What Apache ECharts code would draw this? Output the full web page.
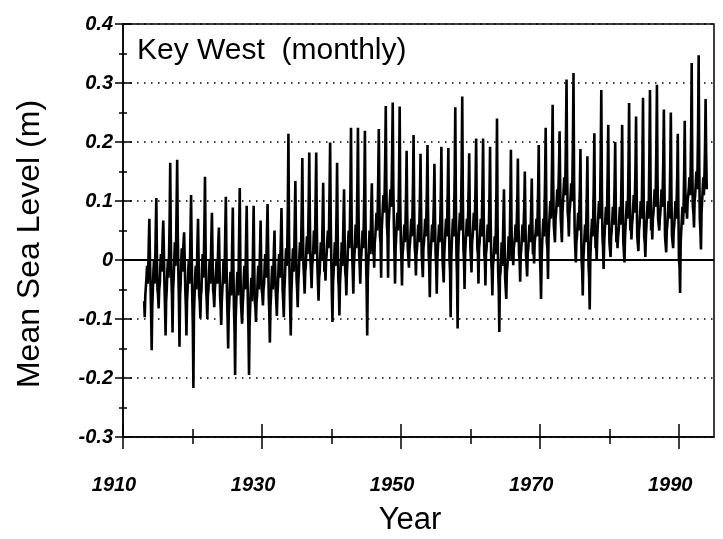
<!DOCTYPE html>
<html>
<head>
<meta charset="utf-8">
<script src="https://cdn.jsdelivr.net/npm/echarts@6/dist/echarts.min.js"></script>
<style>
html,body{margin:0;padding:0;background:#fff;}
#chart{width:723px;height:539px;}
</style>
</head>
<body>
<div id="chart"></div>
<script>
// Key West monthly mean sea level (m), Jan..Dec of each year
const firstYear = 1913;
const msl1910s = [
 -0.07,-0.097,-0.06,-0.06,-0.03,-0.01,-0.04,-0.02,0.03,0.07,0.0,-0.04,      // 1913
 -0.09,-0.153,-0.08,-0.05,-0.02,0.0,-0.04,-0.01,0.05,0.105,0.01,-0.05,      // 1914
 -0.06,-0.082,-0.05,-0.04,-0.01,0.01,-0.02,0.0,0.04,0.067,0.02,-0.04,       // 1915
 -0.08,-0.128,-0.07,-0.05,-0.02,0.0,-0.03,0.01,0.07,0.165,0.04,-0.03,       // 1916
 -0.06,-0.123,-0.05,-0.03,0.0,0.03,-0.01,0.02,0.09,0.17,0.05,-0.02,         // 1917
 -0.07,-0.147,-0.06,-0.04,0.0,0.02,-0.02,0.01,0.03,0.047,0.0,-0.05,         // 1918
 -0.08,-0.128,-0.07,-0.05,-0.02,0.0,-0.04,-0.01,0.05,0.11,0.02,-0.06        // 1919
];
const msl1920s = [
 -0.11,-0.217,-0.09,-0.06,-0.03,-0.01,-0.05,-0.02,0.03,0.07,0.0,-0.06,
 -0.07,-0.099,-0.06,-0.05,-0.01,0.01,-0.03,0.0,0.06,0.141,0.03,-0.05,
 -0.07,-0.10,-0.06,-0.05,-0.02,0.0,-0.04,-0.01,0.04,0.08,0.01,-0.05,
 -0.06,-0.08,-0.05,-0.05,-0.02,0.0,-0.04,-0.01,0.03,0.055,0.0,-0.06,
 -0.08,-0.11,-0.07,-0.05,-0.03,0.0,-0.04,-0.01,0.05,0.107,0.01,-0.06,
 -0.10,-0.15,-0.09,-0.07,-0.04,-0.02,-0.06,-0.03,0.03,0.089,-0.01,-0.08,
 -0.12,-0.195,-0.10,-0.07,-0.04,-0.02,-0.06,-0.02,0.05,0.122,0.0,-0.07,
 -0.09,-0.108,-0.08,-0.06,-0.03,-0.01,-0.05,-0.02,0.04,0.092,0.0,-0.07,
 -0.12,-0.195,-0.11,-0.08,-0.05,-0.03,-0.07,-0.04,0.03,0.092,-0.01,-0.07,
 -0.08,-0.105,-0.07,-0.06,-0.03,-0.01,-0.05,-0.02,0.02,0.067,-0.01,-0.05
];
const msl1930s = [
 -0.06,-0.077,-0.05,-0.04,-0.01,0.01,-0.03,0.0,0.05,0.095,0.02,-0.06,
 -0.09,-0.14,-0.08,-0.06,-0.03,-0.01,-0.05,-0.02,0.02,0.05,-0.01,-0.05,
 -0.07,-0.095,-0.06,-0.04,-0.01,0.01,-0.03,0.0,0.04,0.088,0.02,-0.05,
 -0.07,-0.097,-0.05,-0.03,0.0,0.02,-0.01,0.02,0.09,0.214,0.05,-0.03,
 -0.08,-0.128,-0.06,-0.03,0.0,0.02,-0.02,0.01,0.07,0.134,0.04,-0.03,
 -0.05,-0.08,-0.04,-0.02,0.01,0.03,0.0,0.03,0.09,0.173,0.06,-0.01,
 -0.03,-0.057,-0.02,-0.01,0.02,0.04,0.01,0.04,0.10,0.182,0.07,0.0,
 -0.02,-0.048,-0.01,0.0,0.02,0.05,0.01,0.04,0.11,0.182,0.06,-0.01,
 -0.04,-0.069,-0.03,-0.02,0.01,0.03,0.0,0.02,0.07,0.131,0.04,-0.02,
 -0.01,-0.035,0.0,0.01,0.03,0.05,0.02,0.05,0.12,0.199,0.07,0.0
];
const msl1940s = [
 -0.06,-0.105,-0.04,-0.02,0.0,0.03,-0.01,0.02,0.08,0.165,0.05,-0.03,
 -0.05,-0.094,-0.04,-0.02,0.0,0.03,-0.01,0.02,0.07,0.12,0.04,-0.02,
 -0.03,-0.06,-0.02,0.0,0.03,0.05,0.02,0.05,0.12,0.224,0.08,0.01,
 -0.02,-0.057,-0.01,0.01,0.03,0.06,0.02,0.05,0.13,0.224,0.08,0.01,
 -0.01,-0.04,0.0,0.01,0.03,0.05,0.02,0.06,0.12,0.219,0.07,0.0,
 -0.05,-0.128,-0.03,0.0,0.02,0.05,0.01,0.04,0.09,0.13,0.06,0.01,
 0.02,-0.013,0.03,0.04,0.06,0.08,0.05,0.08,0.14,0.222,0.10,0.04,
 0.03,-0.03,0.05,0.07,0.09,0.11,0.08,0.11,0.17,0.261,0.13,0.06,
 0.04,-0.03,0.06,0.08,0.10,0.12,0.09,0.12,0.18,0.267,0.13,0.06,
 0.01,-0.04,0.02,0.04,0.06,0.08,0.05,0.08,0.15,0.26,0.10,0.03
];
const msl1950s = [
 0.0,-0.043,0.01,0.02,0.04,0.06,0.03,0.06,0.11,0.185,0.08,0.02,
 0.02,-0.013,0.02,0.03,0.05,0.07,0.04,0.07,0.13,0.212,0.09,0.02,
 0.01,-0.026,0.01,0.02,0.04,0.06,0.03,0.06,0.11,0.18,0.08,0.01,
 0.01,-0.029,0.02,0.03,0.05,0.07,0.04,0.07,0.12,0.195,0.08,0.01,
 -0.01,-0.063,0.0,0.02,0.04,0.06,0.03,0.06,0.10,0.163,0.07,0.01,
 -0.01,-0.057,0.0,0.02,0.04,0.06,0.03,0.06,0.11,0.192,0.08,0.0,
 0.0,-0.038,0.01,0.03,0.05,0.07,0.04,0.07,0.12,0.19,0.08,0.0,
 -0.02,-0.097,0.0,0.03,0.05,0.07,0.04,0.08,0.15,0.259,0.10,0.01,
 -0.03,-0.116,0.01,0.04,0.06,0.08,0.05,0.09,0.16,0.277,0.11,0.02,
 0.0,-0.049,0.01,0.03,0.05,0.07,0.04,0.07,0.12,0.181,0.08,0.02
];
const msl1960s = [
 0.02,-0.021,0.03,0.04,0.06,0.08,0.05,0.08,0.13,0.206,0.09,0.02,
 0.01,-0.04,0.02,0.03,0.05,0.07,0.04,0.07,0.13,0.206,0.08,0.01,
 0.0,-0.043,0.01,0.02,0.04,0.06,0.03,0.06,0.11,0.192,0.07,0.0,
 -0.02,-0.06,-0.01,0.0,0.02,0.04,0.01,0.05,0.12,0.24,0.06,-0.02,
 -0.05,-0.122,-0.03,-0.02,0.0,0.03,-0.01,0.02,0.07,0.12,0.04,-0.03,
 -0.03,-0.066,-0.02,-0.01,0.01,0.04,0.0,0.03,0.10,0.187,0.06,0.0,
 0.02,-0.009,0.02,0.02,0.04,0.06,0.03,0.06,0.10,0.172,0.07,0.01,
 0.0,-0.037,0.01,0.02,0.04,0.06,0.03,0.06,0.09,0.15,0.07,0.01,
 0.01,-0.028,0.01,0.02,0.04,0.06,0.03,0.05,0.09,0.138,0.06,0.01,
 0.02,-0.006,0.03,0.03,0.05,0.07,0.04,0.07,0.12,0.195,0.08,0.01
];
const msl1970s = [
 -0.02,-0.066,0.0,0.03,0.05,0.07,0.04,0.08,0.14,0.224,0.10,0.03,
 0.02,-0.032,0.04,0.06,0.08,0.10,0.07,0.10,0.17,0.263,0.13,0.06,
 0.06,0.03,0.07,0.08,0.10,0.12,0.09,0.12,0.16,0.218,0.13,0.07,
 0.07,0.03,0.08,0.10,0.12,0.14,0.11,0.14,0.21,0.306,0.15,0.08,
 0.07,0.04,0.08,0.09,0.11,0.13,0.10,0.13,0.20,0.317,0.14,0.05,
 0.02,-0.004,0.03,0.04,0.06,0.08,0.05,0.08,0.12,0.188,0.07,0.0,
 -0.02,-0.06,0.0,0.02,0.04,0.06,0.03,0.06,0.11,0.176,0.06,-0.01,
 -0.03,-0.084,0.0,0.03,0.05,0.07,0.04,0.07,0.13,0.215,0.08,0.02,
 0.03,0.0,0.04,0.06,0.08,0.10,0.07,0.10,0.18,0.288,0.12,0.04,
 0.02,-0.015,0.03,0.05,0.07,0.09,0.06,0.09,0.15,0.229,0.10,0.03
];
const msl1980s = [
 0.03,0.005,0.04,0.05,0.07,0.09,0.06,0.09,0.13,0.20,0.09,0.03,
 0.04,0.02,0.04,0.05,0.07,0.09,0.06,0.09,0.15,0.229,0.10,0.03,
 0.03,-0.004,0.04,0.06,0.08,0.10,0.07,0.10,0.17,0.266,0.12,0.05,
 0.06,0.035,0.06,0.07,0.09,0.11,0.08,0.11,0.16,0.243,0.12,0.04,
 0.04,0.015,0.05,0.06,0.08,0.10,0.07,0.10,0.17,0.275,0.12,0.04,
 0.03,0.005,0.04,0.06,0.08,0.10,0.07,0.10,0.18,0.288,0.13,0.05,
 0.06,0.035,0.07,0.08,0.10,0.12,0.09,0.12,0.19,0.297,0.14,0.07,
 0.07,0.05,0.07,0.08,0.10,0.12,0.09,0.12,0.17,0.255,0.13,0.04,
 0.04,0.013,0.05,0.06,0.08,0.10,0.07,0.10,0.16,0.25,0.11,0.04,
 0.04,0.02,0.05,0.06,0.08,0.10,0.07,0.10,0.14,0.214,0.09,0.0
];
const msl1990s = [
 -0.01,-0.056,0.03,0.05,0.07,0.09,0.06,0.09,0.15,0.236,0.12,0.08,
 0.09,0.07,0.10,0.10,0.12,0.14,0.11,0.14,0.21,0.334,0.16,0.09,
 0.08,0.055,0.10,0.11,0.13,0.15,0.12,0.15,0.22,0.347,0.17,0.07,
 0.05,0.018,0.08,0.10,0.12,0.14,0.11,0.14,0.19,0.273,0.18,0.12
];
const xLabelYears = [1910, 1930, 1950, 1970, 1990];
const xMinorYears = [1920, 1940, 1960, 1980];
const yMajorTicks = [-0.3, -0.2, -0.1, 0, 0.1, 0.2, 0.3, 0.4];
const yMinorTicks = [-0.25, -0.15, -0.05, 0.05, 0.15, 0.25, 0.35];

const monthly = [].concat(msl1910s, msl1920s, msl1930s, msl1940s, msl1950s, msl1960s, msl1970s, msl1980s, msl1990s);
const seriesData = monthly.map((v, i) => [firstYear + (i + 0.5) / 12, v]);

const FONT = '"Liberation Sans", Arial, sans-serif';
const tickLabel = { fontFamily: FONT, fontWeight: 'bold', fontStyle: 'italic', color: '#000' };
const tickLine = { color: '#000', width: 1.5 };

function xTickAxis(inside, len, vals) {
  return { type: 'value', min: 1910, max: 1995, interval: 20, position: 'bottom',
    axisLine: { show: false, onZero: false }, splitLine: { show: false }, axisLabel: { show: false },
    axisTick: { show: true, inside: inside, length: len, customValues: vals.slice(), lineStyle: tickLine } };
}
function yTickAxis(inside, len, vals) {
  return { type: 'value', min: -0.3, max: 0.4, interval: 0.1, position: 'left',
    axisLine: { show: false, onZero: false }, splitLine: { show: false }, axisLabel: { show: false },
    axisTick: { show: true, inside: inside, length: len, customValues: vals.slice(), lineStyle: tickLine } };
}

const chart = echarts.init(document.getElementById('chart'), null, { renderer: 'canvas' });
chart.setOption({
  animation: false,
  backgroundColor: '#fff',
  grid: { left: 123, right: 9, top: 24, bottom: 102, show: true, borderColor: '#000', borderWidth: 1.5, backgroundColor: 'transparent' },
  graphic: [
    { type: 'text', left: 137, top: 36,
      style: { text: 'Key West  (monthly)', font: '30px "Liberation Sans", Arial, sans-serif', fill: '#000' } },
    { type: 'text', x: 30, y: 244, rotation: Math.PI / 2,
      style: { text: 'Mean Sea Level (m)', font: '32px "Liberation Sans", Arial, sans-serif', fill: '#000',
               align: 'center', verticalAlign: 'middle' } },
    { type: 'text', x: 410, y: 520,
      style: { text: 'Year', font: '31px "Liberation Sans", Arial, sans-serif', fill: '#000',
               align: 'center', verticalAlign: 'middle' } }
  ],
  xAxis: [
    { type: 'value', min: 1910, max: 1995, interval: 20, position: 'bottom',
      axisLine: { show: true, onZero: false, lineStyle: { color: '#000', width: 1.5 } },
      axisTick: { show: false },
      splitLine: { show: false },
      axisLabel: Object.assign({ margin: 38, fontSize: 20, padding: [0, 18, 0, 0],
        customValues: xLabelYears.slice(),
        formatter: v => String(Math.round(v)) }, tickLabel)
    },
    xTickAxis(false, 12, xLabelYears),
    xTickAxis(true, 13, xLabelYears),
    xTickAxis(false, 7, xMinorYears),
    xTickAxis(true, 8, xMinorYears)
  ],
  yAxis: [
    { type: 'value', min: -0.3, max: 0.4, interval: 0.1, position: 'left',
      axisLine: { show: true, onZero: false, lineStyle: { color: '#000', width: 1.5 } },
      axisTick: { show: false },
      splitLine: { show: true, lineStyle: { color: '#000', width: 1.5, type: [1.5, 5.5] } },
      axisLabel: Object.assign({ margin: 10, fontSize: 20,
        formatter: v => (Math.abs(v) < 1e-9 ? '0' : v.toFixed(1)) }, tickLabel)
    },
    yTickAxis(false, 8, yMajorTicks),
    yTickAxis(true, 9, yMajorTicks),
    yTickAxis(false, 4, yMinorTicks),
    yTickAxis(true, 4, yMinorTicks)
  ],
  series: [{
    type: 'line', xAxisIndex: 0, yAxisIndex: 0, data: seriesData,
    showSymbol: false, symbol: 'none',
    lineStyle: { color: '#000', width: 2.6 },
    clip: true, z: 3,
    markLine: { silent: true, symbol: 'none', label: { show: false },
      lineStyle: { color: '#000', width: 1.8, type: 'solid' },
      data: [{ yAxis: 0 }] }
  }]
});
</script>
</body>
</html>
